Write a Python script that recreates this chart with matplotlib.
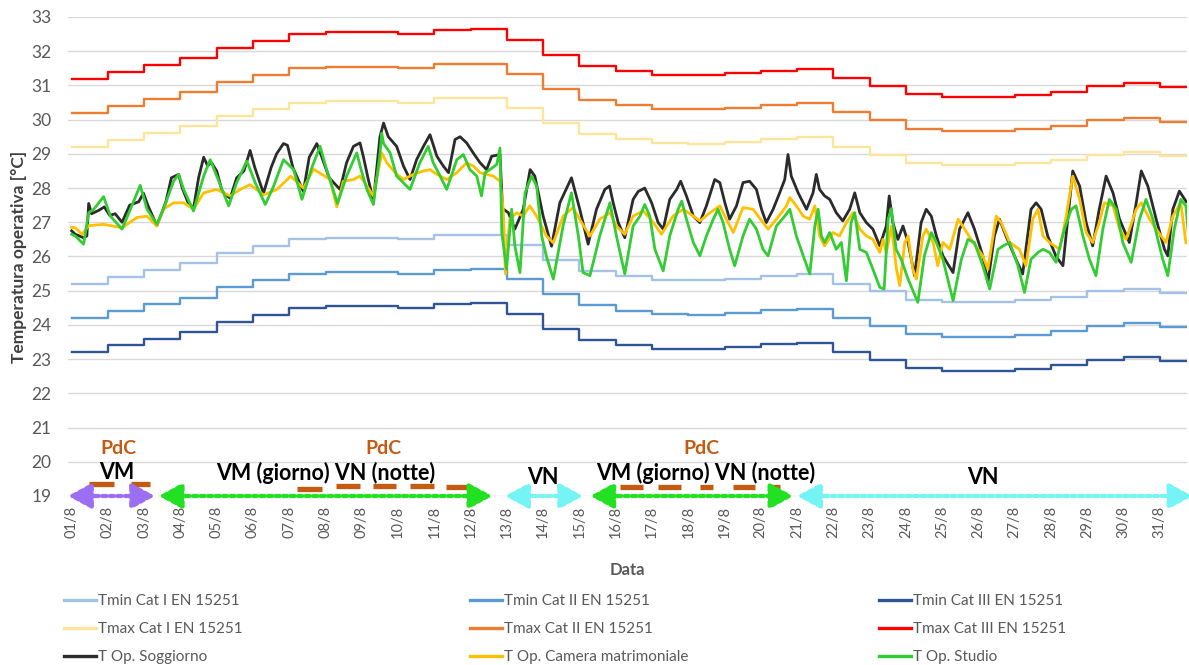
import numpy as np
import matplotlib
matplotlib.use('Agg')
import matplotlib.pyplot as plt

plt.rcParams['font.family'] = ['Lato', 'DejaVu Sans']

# ---- data -------------------------------------------------------------
day_labels = ['%02d/8' % d for d in range(1, 32)]
days = np.arange(31)

# daily limits EN 15251 (step lines)
tmax3 = [31.20, 31.40, 31.60, 31.80, 32.10, 32.30, 32.50, 32.55, 32.55, 32.50, 32.62,
         32.64, 32.33, 31.89, 31.57, 31.42, 31.31, 31.30, 31.35, 31.43, 31.48, 31.21,
         30.98, 30.74, 30.66, 30.66, 30.72, 30.82, 30.98, 31.06, 30.94]
tmax2 = [30.20, 30.40, 30.60, 30.80, 31.10, 31.30, 31.50, 31.55, 31.55, 31.50, 31.62,
         31.64, 31.33, 30.89, 30.57, 30.42, 30.31, 30.30, 30.35, 30.43, 30.48, 30.21,
         29.98, 29.74, 29.66, 29.66, 29.72, 29.82, 29.98, 30.06, 29.94]
tmax1 = [29.20, 29.40, 29.60, 29.80, 30.10, 30.30, 30.50, 30.55, 30.55, 30.50, 30.62,
         30.64, 30.33, 29.89, 29.57, 29.42, 29.31, 29.30, 29.35, 29.43, 29.48, 29.21,
         28.98, 28.74, 28.66, 28.66, 28.72, 28.82, 28.98, 29.06, 28.94]
tmin1 = [25.20, 25.40, 25.60, 25.80, 26.10, 26.30, 26.50, 26.55, 26.55, 26.50, 26.62,
         26.64, 26.33, 25.89, 25.57, 25.42, 25.31, 25.30, 25.35, 25.43, 25.48, 25.21,
         24.98, 24.74, 24.66, 24.66, 24.72, 24.82, 24.98, 25.06, 24.94]
tmin2 = [24.20, 24.40, 24.60, 24.80, 25.10, 25.30, 25.50, 25.55, 25.55, 25.50, 25.62,
         25.64, 25.33, 24.89, 24.57, 24.42, 24.31, 24.30, 24.35, 24.43, 24.48, 24.21,
         23.98, 23.74, 23.66, 23.66, 23.72, 23.82, 23.98, 24.06, 23.94]
tmin3 = [23.20, 23.40, 23.60, 23.80, 24.10, 24.30, 24.50, 24.55, 24.55, 24.50, 24.62,
         24.64, 24.33, 23.89, 23.57, 23.42, 23.31, 23.30, 23.35, 23.43, 23.48, 23.21,
         22.98, 22.74, 22.66, 22.66, 22.72, 22.82, 22.98, 23.06, 22.94]

# operative temperature, T Op. Soggiorno (time in days from 01/8)
sogg_t = [0.0, 0.1, 0.33, 0.42, 0.47, 0.55, 0.75, 0.9, 1.05, 1.2, 1.39, 1.6, 1.85, 1.98,
          2.1, 2.35, 2.6, 2.75, 2.85, 2.95, 3.05, 3.2, 3.36, 3.5, 3.64, 3.75, 3.85, 4.0,
          4.15, 4.37, 4.55, 4.75, 4.92, 5.05, 5.29, 5.5, 5.65, 5.84, 5.95, 6.1, 6.39,
          6.55, 6.76, 6.9, 7.1, 7.4, 7.58, 7.77, 7.95, 8.04, 8.18, 8.32, 8.5, 8.6, 8.73,
          8.96, 9.15, 9.33, 9.51, 9.7, 9.88, 10.07, 10.25, 10.39, 10.57, 10.71, 10.89,
          11.07, 11.26, 11.44, 11.58, 11.81, 11.88, 12.04, 12.22, 12.45, 12.64, 12.77,
          13.0, 13.23, 13.46, 13.78, 14.01, 14.24, 14.47, 14.7, 14.83, 14.93, 15.07,
          15.25, 15.48, 15.62, 15.8, 15.99, 16.17, 16.31, 16.49, 16.68, 16.79, 16.95,
          17.14, 17.32, 17.5, 17.73, 17.87, 18.01, 18.14, 18.33, 18.51, 18.69, 18.88,
          19.02, 19.15, 19.34, 19.52, 19.66, 19.75, 19.84, 20.03, 20.26, 20.44, 20.53,
          20.62, 20.76, 20.9, 21.08, 21.26, 21.45, 21.59, 21.73, 21.91, 22.09, 22.28,
          22.46, 22.54, 22.64, 22.78, 22.92, 23.06, 23.24, 23.42, 23.56, 23.7, 23.84,
          24.02, 24.3, 24.48, 24.71, 24.89, 25.12, 25.26, 25.44, 25.58, 25.76, 25.99,
          26.22, 26.45, 26.59, 26.73, 26.91, 27.14, 27.33, 27.51, 27.6, 27.79, 27.97,
          28.15, 28.33, 28.52, 28.71, 28.89, 29.16, 29.35, 29.49, 29.67, 29.9, 30.13,
          30.22, 30.36, 30.54, 30.73]
sogg_v = [26.75, 26.65, 26.55, 26.6, 27.55, 27.25, 27.35, 27.45, 27.2, 27.25, 27.0, 27.5,
          27.6, 27.85, 27.5, 26.9, 27.6, 28.3, 28.35, 28.4, 28.0, 27.6, 27.4, 28.3, 28.9,
          28.65, 28.75, 28.5, 27.9, 27.7, 28.3, 28.5, 29.1, 28.6, 27.85, 28.6, 29.0, 29.3,
          29.25, 28.6, 27.9, 28.9, 29.3, 28.9, 28.3, 27.96, 28.74, 29.22, 29.32, 28.93,
          28.25, 27.62, 29.5, 29.9, 29.5, 29.22, 28.64, 28.25, 28.83, 29.22, 29.56, 28.93,
          28.64, 28.45, 29.42, 29.5, 29.32, 29.03, 28.74, 28.54, 28.93, 28.98, 27.4, 27.28,
          26.8, 27.38, 28.54, 28.35, 27.18, 26.3, 27.57, 28.3, 27.38, 26.36, 27.38, 27.96,
          28.06, 27.57, 26.99, 26.55, 27.67, 27.9, 28.0, 27.57, 26.99, 26.8, 27.67, 27.96,
          28.2, 27.77, 27.18, 26.99, 27.48, 28.25, 28.16, 27.57, 27.09, 27.48, 28.16, 28.2,
          27.96, 27.38, 26.99, 27.38, 27.86, 28.25, 28.98, 28.35, 27.86, 27.38, 27.86, 28.4,
          27.96, 27.77, 27.67, 27.28, 27.04, 27.38, 27.86, 27.28, 26.99, 26.8, 26.31, 26.89,
          27.77, 26.99, 26.5, 26.89, 26.41, 25.44, 26.99, 27.38, 27.18, 26.6, 26.02, 25.53,
          26.8, 27.28, 26.8, 26.02, 25.24, 26.6, 27.09, 26.6, 26.02, 25.49, 27.38, 27.57,
          27.38, 26.6, 26.0, 25.73, 27.57, 28.5, 28.06, 26.99, 26.31, 27.38, 28.35, 27.86,
          27.09, 26.41, 27.57, 28.5, 28.06, 27.09, 26.21, 26.02, 27.38, 27.91, 27.6]

# T Op. Camera matrimoniale
cam_t = [0.0, 0.1, 0.29, 0.47, 0.88, 1.39, 1.8, 2.08, 2.35, 2.53, 2.81, 3.09, 3.36, 3.64,
         4.0, 4.37, 4.65, 4.92, 5.29, 5.66, 6.04, 6.39, 6.67, 7.13, 7.31, 7.49, 7.77, 7.95,
         8.14, 8.32, 8.55, 8.69, 8.92, 9.15, 9.42, 9.7, 9.88, 10.07, 10.34, 10.62, 10.89,
         11.08, 11.26, 11.45, 11.63, 11.81, 11.9, 11.96, 12.08, 12.27, 12.45, 12.63, 12.82,
         13.09, 13.28, 13.55, 13.82, 14.06, 14.29, 14.56, 14.84, 15.02, 15.25, 15.48,
         15.76, 16.04, 16.26, 16.58, 16.86, 17.14, 17.32, 17.6, 17.87, 18.05, 18.24, 18.51,
         18.79, 19.06, 19.2, 19.43, 19.71, 19.8, 19.98, 20.17, 20.35, 20.49, 20.62, 20.76,
         20.99, 21.17, 21.36, 21.54, 21.73, 21.91, 22.09, 22.28, 22.37, 22.46, 22.6, 22.74,
         22.83, 22.97, 23.06, 23.19, 23.29, 23.47, 23.56, 23.75, 23.88, 24.02, 24.21, 24.44,
         24.62, 24.85, 25.12, 25.26, 25.49, 25.63, 25.86, 26.13, 26.31, 26.5, 26.64, 26.78,
         26.96, 27.24, 27.42, 27.6, 27.79, 27.97, 28.15, 28.33, 28.47, 28.71, 28.89, 29.07,
         29.35, 29.49, 29.72, 29.9, 30.17, 30.36, 30.58, 30.72]
cam_v = [26.85, 26.84, 26.65, 26.9, 26.94, 26.84, 27.14, 27.18, 26.89, 27.38, 27.57, 27.57,
         27.38, 27.86, 27.96, 27.77, 27.96, 28.1, 27.8, 27.96, 28.35, 28.0, 28.55, 28.25,
         27.45, 28.2, 28.25, 28.35, 28.06, 27.77, 29.03, 28.74, 28.45, 28.25, 28.4, 28.5,
         28.54, 28.4, 28.25, 28.45, 28.74, 28.64, 28.45, 28.4, 28.35, 28.2, 27.38, 25.49,
         27.09, 27.28, 27.18, 27.48, 27.18, 26.6, 26.4, 27.18, 27.43, 26.99, 26.6, 27.09,
         27.28, 26.89, 26.65, 27.18, 27.33, 26.99, 26.65, 27.18, 27.38, 27.18, 27.04, 27.28,
         27.48, 27.09, 26.7, 27.43, 27.38, 26.99, 26.8, 27.09, 27.48, 27.72, 27.48, 27.18,
         27.09, 27.48, 26.6, 26.31, 26.7, 26.6, 26.99, 27.28, 26.8, 26.6, 26.5, 26.12, 26.5,
         26.1, 26.89, 25.63, 25.15, 26.41, 26.6, 25.63, 25.34, 26.6, 26.8, 26.41, 25.73,
         26.41, 26.21, 27.09, 26.8, 26.41, 26.02, 25.63, 27.18, 26.99, 26.41, 26.21, 25.73,
         27.09, 27.38, 26.6, 26.41, 26.21, 27.18, 28.35, 27.67, 26.7, 26.41, 26.99, 27.57,
         27.48, 26.8, 26.5, 27.38, 27.57, 27.09, 26.8, 26.41, 27.18, 27.57, 26.4]

# T Op. Studio
stud_t = [0.0, 0.1, 0.33, 0.47, 0.61, 0.88, 1.07, 1.39, 1.62, 1.89, 2.08, 2.35, 2.53, 2.81,
          2.95, 3.09, 3.36, 3.64, 3.82, 4.0, 4.33, 4.55, 4.83, 5.06, 5.34, 5.57, 5.84, 6.12,
          6.35, 6.62, 6.85, 7.03, 7.33, 7.58, 7.86, 7.98, 8.14, 8.32, 8.5, 8.55, 8.6, 8.78,
          8.96, 9.33, 9.6, 9.83, 9.97, 10.16, 10.34, 10.62, 10.8, 10.98, 11.17, 11.3, 11.4,
          11.53, 11.72, 11.81, 11.86, 11.99, 12.13, 12.22, 12.36, 12.5, 12.68, 12.82, 12.96,
          13.09, 13.28, 13.55, 13.78, 13.97, 14.1, 14.29, 14.56, 14.84, 15.02, 15.25, 15.48,
          15.67, 15.8, 15.94, 16.08, 16.31, 16.49, 16.72, 16.82, 16.95, 17.14, 17.32, 17.5,
          17.69, 17.82, 17.96, 18.14, 18.28, 18.51, 18.69, 18.88, 19.06, 19.2, 19.43, 19.66,
          19.8, 19.98, 20.17, 20.35, 20.49, 20.58, 20.67, 20.76, 20.9, 21.08, 21.22, 21.36,
          21.49, 21.59, 21.73, 21.91, 22.09, 22.28, 22.4, 22.51, 22.6, 22.73, 22.87, 23.06,
          23.33, 23.51, 23.7, 23.84, 24.02, 24.3, 24.53, 24.71, 24.89, 25.12, 25.31, 25.54,
          25.68, 25.86, 26.09, 26.27, 26.45, 26.64, 26.78, 26.96, 27.14, 27.37, 27.56, 27.69,
          27.88, 28.06, 28.24, 28.43, 28.61, 28.8, 28.98, 29.21, 29.44, 29.62, 29.81, 30.08,
          30.22, 30.4, 30.58, 30.72, 30.8]
stud_v = [26.65, 26.6, 26.36, 27.28, 27.38, 27.75, 27.18, 26.8, 27.38, 28.08, 27.38, 26.94,
          27.38, 28.2, 28.4, 27.96, 27.33, 28.35, 28.83, 28.35, 27.48, 28.16, 28.79, 28.16,
          27.52, 28.06, 28.83, 28.54, 27.67, 28.59, 29.22, 28.54, 27.55, 28.35, 29.03, 28.54,
          27.96, 27.52, 29.0, 29.6, 29.3, 29.03, 28.35, 27.96, 28.74, 29.22, 28.74, 28.35,
          27.96, 28.83, 28.98, 28.54, 28.35, 27.77, 28.45, 28.54, 28.69, 29.17, 26.7, 25.63,
          27.38, 26.31, 25.53, 27.86, 28.35, 28.06, 26.6, 26.0, 25.34, 26.9, 27.86, 26.6,
          25.53, 25.44, 26.6, 27.57, 26.6, 25.49, 26.89, 27.18, 27.52, 27.18, 26.21, 25.58,
          26.6, 27.38, 27.62, 27.09, 26.41, 26.02, 26.6, 27.09, 27.38, 26.99, 26.21, 25.73,
          26.6, 27.09, 26.8, 26.21, 26.02, 26.89, 27.18, 27.38, 26.6, 26.02, 25.49, 26.89,
          27.38, 26.6, 26.41, 26.7, 26.21, 26.41, 25.29, 27.0, 27.28, 26.21, 26.12, 25.63,
          25.1, 25.05, 27.09, 27.4, 26.21, 25.92, 25.34, 24.66, 26.02, 26.7, 26.41, 25.92,
          24.71, 25.92, 26.5, 26.41, 25.73, 25.05, 26.21, 26.31, 26.41, 25.73, 24.95, 25.92,
          26.12, 26.21, 26.12, 25.83, 26.8, 27.38, 27.48, 26.6, 25.92, 25.44, 26.8, 27.67,
          27.38, 26.41, 25.83, 27.09, 27.67, 27.09, 25.92, 25.44, 26.8, 27.67, 27.48, 26.5]

# operating modes along the bottom (start day, end day)
mode_spans = [(-0.1, 2.3), (2.4, 11.6), (11.95, 14.1), (14.3, 19.9), (20.0, 30.9)]
mode_colors = ['#9B6EF3', '#22E022', '#74F4F4', '#22E022', '#74F4F4']
mode_text = ['VM', 'VM (giorno) VN (notte)', 'VN', 'VM (giorno) VN (notte)', 'VN']
mode_text_x = [1.24, 7.0, 13.0, 17.47, 25.12]
mode_text_y = [19.68, 19.68, 19.55, 19.68, 19.55]
pdc_x = [1.29, 8.6, 17.36]
pdc_on = [(0.47, 1.16, 19.35), (1.63, 2.15, 19.35), (6.2, 6.89, 19.21), (7.3, 7.96, 19.28),
          (8.32, 8.95, 19.28), (9.34, 10.0, 19.28), (10.33, 10.96, 19.26),
          (15.12, 15.76, 19.27), (16.17, 16.8, 19.27), (17.33, 17.69, 19.27),
          (18.24, 18.84, 19.27), (19.2, 19.53, 19.27)]

# ---- figure -------------------------------------------------------------
grey = '#595959'
fig = plt.figure(figsize=(11.89, 6.65), dpi=100)
ax = fig.add_axes([68 / 1189, 1 - 496 / 665, (1187 - 68) / 1189, (496 - 17) / 665])

step_x = np.append(days, 30.9)
limits = [(tmin1, '#A4C2E8', 'Tmin Cat I EN 15251'),
          (tmin2, '#5B9BD5', 'Tmin Cat II EN 15251'),
          (tmin3, '#2F5597', 'Tmin Cat III EN 15251'),
          (tmax1, '#FFE599', 'Tmax Cat I EN 15251'),
          (tmax2, '#ED7D31', 'Tmax Cat II EN 15251'),
          (tmax3, '#FF0000', 'Tmax Cat III EN 15251')]
handles = {}
for vals, col, lab in limits:
    ln, = ax.step(step_x, np.append(vals, vals[-1]), where='post', color=col, lw=1.7, label=lab)
    handles[lab] = ln

for t, v, col, lab in [(sogg_t, sogg_v, '#2B2B2B', 'T Op. Soggiorno'),
                       (cam_t, cam_v, '#FFC000', 'T Op. Camera matrimoniale'),
                       (stud_t, stud_v, '#33CC33', 'T Op. Studio')]:
    ln, = ax.plot(t, v, color=col, lw=2.0, label=lab)
    handles[lab] = ln

# mode arrows
for (x0, x1), col in zip(mode_spans, mode_colors):
    ax.annotate('', xy=(x1, 19), xytext=(x0, 19), annotation_clip=False,
                arrowprops=dict(arrowstyle='<|-|>,head_length=0.7,head_width=0.38',
                                color=col, lw=3, linestyle=(0, (1, 0.8)),
                                shrinkA=0, shrinkB=0, mutation_scale=20))
for txt, x, y in zip(mode_text, mode_text_x, mode_text_y):
    ax.text(x, y, txt, ha='center', va='center', fontsize=15.5, fontweight='bold', color='black')
for x in pdc_x:
    ax.text(x, 20.38, 'PdC', ha='center', va='center', fontsize=14, fontweight='bold',
            color='#C55A11')
for x0, x1, y in pdc_on:
    ax.plot([x0, x1], [y, y], color='#C55A11', lw=3.8, solid_capstyle='butt')

ax.set_xlim(-0.1, 30.75)
ax.set_ylim(19, 33)
ax.set_yticks(range(19, 34))
ax.set_xticks(days)
ax.set_xticklabels(day_labels, rotation=90)
ax.yaxis.grid(True, color='#D9D9D9', lw=1)
ax.set_axisbelow(True)
for s in ax.spines.values():
    s.set_visible(False)
ax.tick_params(axis='both', length=0, colors=grey)
ax.tick_params(axis='y', labelsize=12.5, pad=12)
ax.tick_params(axis='x', labelsize=10.5, pad=7)
ax.set_ylabel('Temperatura operativa [°C]', fontsize=12.5, fontweight='bold', color='#404040',
              labelpad=3)
ax.set_xlabel('Data', fontsize=12, fontweight='bold', color=grey, labelpad=17)

# legend: three columns
columns = [['Tmin Cat I EN 15251', 'Tmax Cat I EN 15251', 'T Op. Soggiorno'],
           ['Tmin Cat II EN 15251', 'Tmax Cat II EN 15251', 'T Op. Camera matrimoniale'],
           ['Tmin Cat III EN 15251', 'Tmax Cat III EN 15251', 'T Op. Studio']]
col_x = [64, 470, 879]
for labs, px in zip(columns, col_x):
    leg = fig.legend([handles[l] for l in labs], labs, loc='upper left',
                     bbox_to_anchor=(px / 1189, 1 - 594 / 665), frameon=False, ncol=1,
                     fontsize=11, handlelength=2.1, handletextpad=0.1, labelspacing=0.92,
                     borderpad=0, borderaxespad=0, labelcolor=grey)
    for h in leg.legend_handles:
        h.set_linewidth(2.4)

fig.savefig('out.png', dpi=100)
